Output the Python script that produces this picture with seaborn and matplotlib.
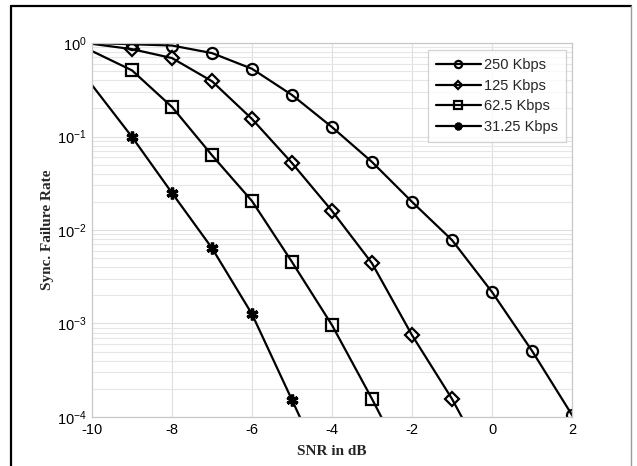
import matplotlib
matplotlib.use("Agg")
import matplotlib.pyplot as plt
from matplotlib.lines import Line2D
from matplotlib.ticker import LogLocator, FixedLocator
import seaborn as sns
import pandas as pd

# SNR in dB
snr = [-10, -9, -8, -7, -6, -5, -4, -3, -2, -1, 0, 1, 2, 3]

# sync failure rate per data rate
rate_250 = [1.0, 0.97, 0.94, 0.78, 0.53, 0.278, 0.126, 0.0534, 0.020, 0.0078, 0.00217, 5.1e-4, 1.05e-4, 2.0e-5]
rate_125 = [0.98, 0.86, 0.69, 0.39, 0.154, 0.052, 0.016, 0.0044, 7.5e-4, 1.56e-4, 2.5e-5]
rate_62 = [0.82, 0.51, 0.207, 0.063, 0.0204, 0.00455, 9.6e-4, 1.56e-4, 2.3e-5]
rate_31 = [0.355, 0.099, 0.0249, 0.0064, 0.00126, 1.52e-4, 1.8e-5]

labels = ['250 Kbps', '125 Kbps', '62.5 Kbps', '31.25 Kbps']
markers = ['o', 'D', 's', (6, 2, 0)]
sizes = [8, 7, 8, 8.5]
edges = [1.6, 1.6, 1.6, 2.4]

series = [rate_250, rate_125, rate_62, rate_31]

sns.set_style("white")
plt.rcParams['font.family'] = ['Liberation Sans', 'DejaVu Sans']
plt.rcParams['mathtext.fontset'] = 'custom'
plt.rcParams['mathtext.rm'] = 'Liberation Sans'

fig = plt.figure(figsize=(6.37, 4.66), dpi=100)
ax = fig.add_axes([0.1444, 0.1052, 0.7536, 0.8025])

for vals, lab, mk, ms, ew in zip(series, labels, markers, sizes, edges):
    df = pd.DataFrame({'SNR': snr[:len(vals)], 'rate': vals})
    sns.lineplot(data=df, x='SNR', y='rate', ax=ax, color='black', linewidth=1.6,
                 marker=mk, markersize=ms, markeredgewidth=ew, fillstyle='none',
                 markeredgecolor='black', markevery=list(range(1, len(vals))),
                 label=lab, sort=False)

ax.set_yscale('log')
ax.set_xlim(-10, 2)
ax.set_ylim(1e-4, 1)
ax.xaxis.set_major_locator(FixedLocator([-10, -8, -6, -4, -2, 0, 2]))
ax.yaxis.set_major_locator(LogLocator(base=10, numticks=10))
ax.yaxis.set_minor_locator(LogLocator(base=10, subs=range(2, 10), numticks=20))
ax.set_xticklabels(['-10', '-8', '-6', '-4', '-2', '0', '2'])

ax.grid(True, which='major', color='#dedede', linewidth=0.8)
ax.grid(True, which='minor', axis='y', color='#e6e6e6', linewidth=0.8)
ax.set_axisbelow(True)
for sp in ax.spines.values():
    sp.set_color('#c8c8c8')
    sp.set_linewidth(0.9)
ax.tick_params(axis='both', which='both', length=0, labelsize=10.5, pad=4, colors='black')

ax.set_xlabel('SNR in dB', fontfamily='Liberation Serif', fontweight='bold', fontsize=11, labelpad=6)
ax.set_ylabel('Sync. Failure Rate', fontfamily='Liberation Serif', fontweight='bold', fontsize=11, labelpad=2)

leg = ax.legend(loc='upper right', bbox_to_anchor=(0.9875, 0.981), borderaxespad=0, fontsize=10.5,
                markerscale=0.65, handlelength=3.1, handletextpad=0.2, labelspacing=0.45,
                borderpad=0.55, frameon=True, fancybox=False)
leg.get_frame().set_edgecolor('#c8c8c8')
leg.get_frame().set_linewidth(0.9)

# outer frame of the original figure
fig.add_artist(Line2D([0.0175, 0.991], [0.987, 0.987], color='black', linewidth=1.6, transform=fig.transFigure))
fig.add_artist(Line2D([0.0175, 0.0175], [0.0, 0.987], color='black', linewidth=1.6, transform=fig.transFigure))
fig.add_artist(Line2D([0.991, 0.991], [0.0, 0.987], color='#999999', linewidth=1.0, transform=fig.transFigure))

fig.savefig('out.png', dpi=100)
